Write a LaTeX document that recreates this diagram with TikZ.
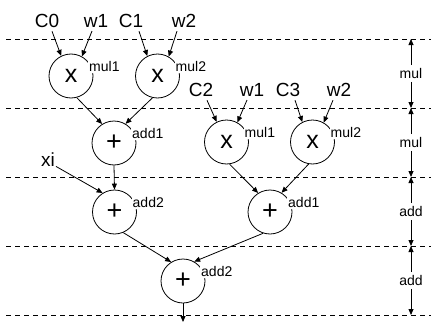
\documentclass[tikz,border=0pt]{standalone}
\usepackage{fontspec}
\setmainfont{Liberation Sans}
\usetikzlibrary{arrows.meta,calc}
\begin{document}
\begin{tikzpicture}[x=1pt,y=-1pt,
  op/.style={draw,circle,minimum size=44pt,inner sep=0pt,line width=0.8pt},
  opx/.style={op,font=\fontsize{25}{25}\selectfont},
  opp/.style={op,font=\fontsize{27}{27}\selectfont},
  txt/.style={font=\fontsize{19}{19}\selectfont},
  lbl/.style={font=\fontsize{14}{14}\selectfont,fill=white,inner sep=1pt,anchor=base west},
  band/.style={font=\fontsize{14}{14}\selectfont,inner sep=3pt},
  arr/.style={-{Triangle[length=6pt,width=5pt]},line width=0.8pt},
  dashline/.style={line width=0.8pt,dash pattern=on 5pt off 4pt}]
\useasboundingbox (0,0) rectangle (431,324);
% dashed stage lines
\foreach \yy in {39,108,177,246,315} \draw[dashline] (6,\yy) -- (431,\yy);
% inputs
\node[txt] (C0) at (47,21) {C0};
\node[txt] (w1a) at (96,21) {w1};
\node[txt] (C1) at (131,21) {C1};
\node[txt] (w2a) at (184,21) {w2};
\node[txt] (C2) at (201,90) {C2};
\node[txt] (w1b) at (252,90) {w1};
\node[txt] (C3) at (288,90) {C3};
\node[txt] (w2b) at (339,90) {w2};
\node[txt] (xi) at (48,160) {xi};
% operators
\node[opx] (mul1a) at (71,76) {x};
\node[opx] (mul2a) at (157.5,76) {x};
\node[opp] (add1a) at (114,143) {+};
\node[opx] (mul1b) at (226.5,142) {x};
\node[opx] (mul2b) at (312.5,142) {x};
\node[opp] (add2a) at (114.5,212) {+};
\node[opp] (add1b) at (270,212) {+};
\node[opp] (add2b) at (183,281) {+};
% labels
\foreach \n/\t in {mul1a/mul1,mul2a/mul2,add1a/add1,mul1b/mul1,mul2b/mul2,add2a/add2,add1b/add1,add2b/add2}
  \node[lbl] (\n-l) at ($(\n.center)+(17,-4.5)$) {\t};
% input arrows
\draw[arr] ($(C0.south)+(5,0)$) -- (mul1a.116);
\draw[arr] ($(w1a.south)+(-4,0)$) -- (mul1a.61);
\draw[arr] ($(C1.south)+(8,0)$) -- (mul2a.117);
\draw[arr] ($(w2a.south)+(-7,0)$) -- (mul2a.60);
\draw[arr] ($(C2.south)+(6,0)$) -- (mul1b.116);
\draw[arr] ($(w1b.south)+(-5,0)$) -- (mul1b.61);
\draw[arr] ($(C3.south)+(7,0)$) -- (mul2b.117);
\draw[arr] ($(w2b.south)+(-6,0)$) -- (mul2b.60);
\draw[arr] ($(xi.south)+(8,-4)$) -- (add2a.122);
% internal edges
\draw[arr] (mul1a.-75) -- (add1a.122);
\draw[arr] (mul2a.-103) -- (add1a.59);
\draw[arr] (add1a.south) -- (add2a.north);
\draw[arr] (mul1b.-82) -- (add1b.122);
\draw[arr] (mul2b.-100) -- (add1b.59);
\draw[arr] (add2a.-67) -- (add2b.122);
\draw[arr] (add1b.-108) -- (add2b.60);
\coordinate (out) at (183,322);
\draw[arr] (add2b.south) -- (out);
% stage annotation on the right
\foreach \i/\yy in {1/39,2/108,3/177,4/246,5/315} \coordinate (s\i) at (411,\yy);
\node[band] (b1) at (411,73.5) {mul};
\node[band] (b2) at (411,142.5) {mul};
\node[band] (b3) at (411,211.5) {add};
\node[band] (b4) at (411,280.5) {add};
\draw[arr] (b1) -- (s1); \draw[arr] (b1) -- (s2);
\draw[arr] (b2) -- (s2); \draw[arr] (b2) -- (s3);
\draw[arr] (b3) -- (s3); \draw[arr] (b3) -- (s4);
\draw[arr] (b4) -- (s4); \draw[arr] (b4) -- (s5);
\end{tikzpicture}
\end{document}
